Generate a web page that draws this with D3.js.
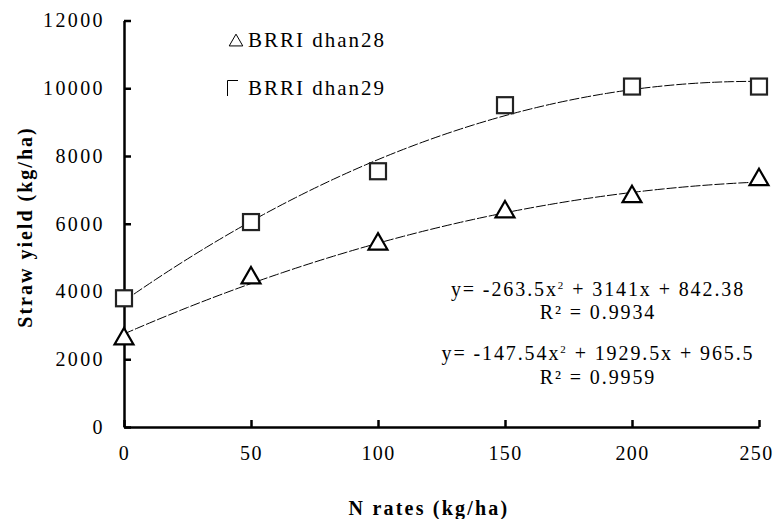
<!DOCTYPE html>
<html lang="en">
  <head>
    <meta charset="utf-8">
    <title>Straw yield vs N rates</title>
    <style>
      body { margin: 0; background: #fff; }
      svg text { fill: #000; }
      .axis path, .axis line { stroke: #000; stroke-width: 2.5px; }
      .trend { fill: none; stroke: #000; stroke-width: 1px; stroke-dasharray: 10,2; }
    </style>
  </head>
  <body>
    <div id="chart"></div>
    <script src="https://cdn.jsdelivr.net/npm/d3@7"></script>
    <script>
      // N rates (kg/ha)
      var nRates = [0, 50, 100, 150, 200, 250];
      var dhan28 = [2600, 4400, 5400, 6350, 6800, 7300];
      var dhan29 = [3800, 6050, 7550, 9500, 10050, 10050];
      var yTicks = [0, 2000, 4000, 6000, 8000, 10000, 12000];
      // trendline coefficients as printed on the chart (x = point index 1..6)
      var coef28 = [-147.54, 1929.5, 965.5];
      var coef29 = [-263.5, 3141, 842.38];
      var eqLabels = [
        ["y= -263.5x", "2", " + 3141x + 842.38", "R² = 0.9934"],
        ["y= -147.54x", "2", " + 1929.5x + 965.5", "R² = 0.9959"]
      ];

      var FONT = "'Liberation Serif', Tinos, 'Times New Roman', 'DejaVu Serif', serif";
      var W = 775, H = 519;

      var svg = d3.select("#chart").append("svg")
          .attr("width", W).attr("height", H)
          .attr("font-family", FONT);

      var x = d3.scaleLinear().domain([0, 250]).range([124, 759]);
      var y = d3.scaleLinear().domain([0, 12000]).range([427, 20.5]);

      function styleTicks(g) {
        g.attr("font-family", FONT).attr("font-size", 20);
        g.selectAll("text").attr("letter-spacing", 2.4);
        g.select(".domain").attr("stroke-width", 3);
      }

      // axes with inside ticks
      svg.append("g").attr("class", "axis")
          .attr("transform", "translate(0," + y(0) + ")")
          .call(d3.axisBottom(x).tickValues(nRates).tickSizeInner(-7).tickSizeOuter(0).tickPadding(19))
          .call(styleTicks)
          .call(function(g) {
            g.selectAll("text").attr("letter-spacing", 1.4)
              .attr("dx", function(d) { return d === 250 ? -3 : 0; });
          });

      svg.append("g").attr("class", "axis")
          .attr("transform", "translate(" + x(0) + ",0)")
          .call(d3.axisLeft(y).tickValues(yTicks).tickSizeInner(-7).tickSizeOuter(0).tickPadding(19).tickFormat(d3.format("d")))
          .call(styleTicks);

      // trendlines
      function trend(c) {
        var pts = d3.range(1, 6.001, 0.05).map(function(i) {
          return [x(nRates[0] + (i - 1) * 50), y(c[0] * i * i + c[1] * i + c[2])];
        });
        return d3.line()(pts);
      }
      svg.append("path").attr("class", "trend").attr("d", trend(coef29));
      svg.append("path").attr("class", "trend").attr("d", trend(coef28));

      // markers
      var tri = d3.symbol().type(d3.symbolTriangle).size(155);
      svg.selectAll(".tri").data(dhan28).enter().append("path")
          .attr("class", "tri")
          .attr("d", tri)
          .attr("transform", function(d, i) { return "translate(" + x(nRates[i]) + "," + y(d) + ")"; })
          .attr("fill", "#fff").attr("stroke", "#000").attr("stroke-width", 2.2);

      svg.selectAll(".sq").data(dhan29).enter().append("rect")
          .attr("class", "sq")
          .attr("x", function(d, i) { return x(nRates[i]) - 8; })
          .attr("y", function(d) { return y(d) - 8; })
          .attr("width", 16).attr("height", 16)
          .attr("fill", "#fff").attr("stroke", "#222").attr("stroke-width", 2.2);

      // legend
      svg.append("path")
          .attr("d", d3.symbol().type(d3.symbolTriangle).size(80))
          .attr("transform", "translate(236,42)")
          .attr("fill", "none").attr("stroke", "#000").attr("stroke-width", 1);
      svg.append("text").attr("x", 248).attr("y", 47)
          .attr("font-size", 21).attr("letter-spacing", 2).text("BRRI dhan28");
      svg.append("path")
          .attr("d", "M227.5,96V80.5H238")
          .attr("fill", "none").attr("stroke", "#000").attr("stroke-width", 1);
      svg.append("text").attr("x", 248).attr("y", 95)
          .attr("font-size", 21).attr("letter-spacing", 2).text("BRRI dhan29");

      // equations
      var eqY = [296, 360], rY = [319, 384];
      eqLabels.forEach(function(e, k) {
        var t = svg.append("text").attr("x", 598).attr("y", eqY[k])
            .attr("text-anchor", "middle").attr("font-size", 20).attr("letter-spacing", 1.9);
        t.append("tspan").text(e[0]);
        t.append("tspan").attr("dy", -7).attr("font-size", 11).text(e[1]);
        t.append("tspan").attr("dy", 7).text(e[2]);
        svg.append("text").attr("x", 598).attr("y", rY[k])
            .attr("text-anchor", "middle").attr("font-size", 20).attr("letter-spacing", 1.9)
            .text(e[3]);
      });

      // axis titles
      svg.append("text")
          .attr("x", 429).attr("y", 515).attr("text-anchor", "middle")
          .attr("font-size", 20).attr("font-weight", "bold").attr("letter-spacing", 2.2)
          .text("N rates (kg/ha)");
      svg.append("text")
          .attr("transform", "translate(32,227) rotate(-90)")
          .attr("text-anchor", "middle")
          .attr("font-size", 20).attr("font-weight", "bold").attr("letter-spacing", 2)
          .text("Straw yield (kg/ha)");
    </script>
  </body>
</html>
